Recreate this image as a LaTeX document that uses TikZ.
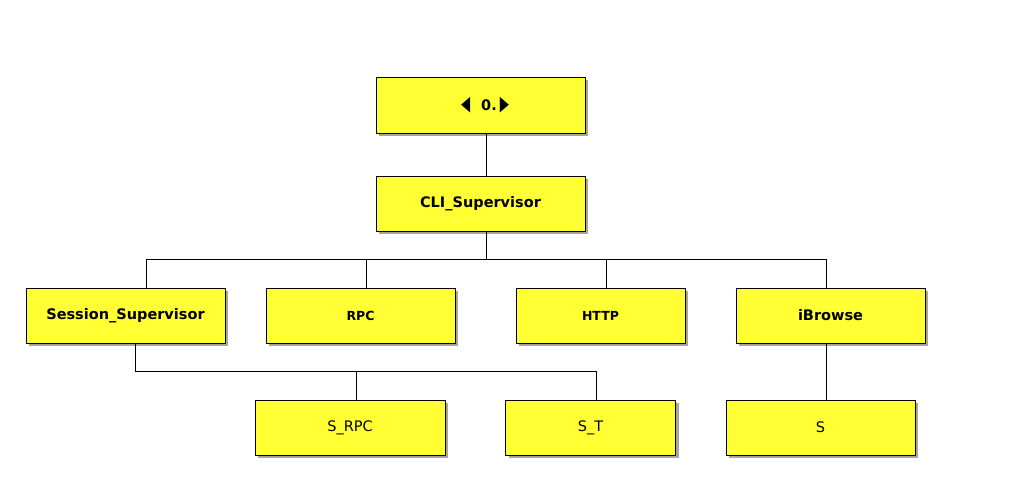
\documentclass[tikz,border=0pt]{standalone}
\usepackage{fontspec}
\setmainfont{DejaVu Sans}
\usetikzlibrary{shadows,calc}
\definecolor{boxyellow}{RGB}{255,255,51}
\newcommand{\tri}[1]{{\fontsize{20.5}{20}\selectfont\scalebox{0.58}[1.0]{#1}}}
\tikzset{
  box/.style={draw=black, line width=1pt, fill=boxyellow, minimum height=55pt,
    inner sep=0pt, font=\bfseries\fontsize{14.5}{16}\selectfont,
    drop shadow={shadow xshift=3pt, shadow yshift=-3pt, opacity=0.5, fill=black!70}},
  plain/.style={font=\fontsize{14.5}{16}\selectfont},
  small/.style={font=\bfseries\fontsize{12.5}{14}\selectfont},
  conn/.style={draw=black, line width=0.9pt}
}
\begin{document}
\begin{tikzpicture}[x=1pt,y=-1pt]
\useasboundingbox (0,0) rectangle (1020,490);
\fill[white] (0,0) rectangle (1020,490);
\node[box, minimum width=209pt, minimum height=56pt] (top) at (480.5,105)
  {\hspace{9pt}\tri{◀}\hspace{11pt}0.\hspace{3pt}\tri{▶}};
\node[box, minimum width=209pt] (cli) at (480.5,203.5) {CLI\_Supervisor};
\node[box, minimum width=199pt] (ses) at (125.5,315.5) {Session\_Supervisor};
\node[box, small, minimum width=189pt] (rpc) at (360.5,315.5) {RPC};
\node[box, small, minimum width=169pt] (http) at (600.5,315.5) {HTTP};
\node[box, minimum width=189pt] (ib) at (830.5,315.5) {iBrowse};
\node[box, plain, minimum width=190pt] (srpc) at (350,427.5) {S\_RPC};
\node[box, plain, minimum width=170pt] (st) at (590.5,427.5) {S\_T};
\node[box, plain, minimum width=189pt] (s) at (820.5,427.5) {S};
\coordinate (bus1) at (486,259);
\coordinate (bus2) at (135,371);
\draw[conn] ([xshift=5.5pt]top.south) -- ([xshift=5.5pt]cli.north);
\draw[conn] ([xshift=5.5pt]cli.south) -- (bus1);
\draw[conn] ([xshift=20.5pt]ses.north) -- ([xshift=20.5pt]ses.north |- bus1);
\draw[conn] ([xshift=-4.5pt]ib.north) -- ([xshift=-4.5pt]ib.north |- bus1);
\draw[conn, line cap=rect] ([xshift=20.5pt]ses.north |- bus1) -- ([xshift=-4.5pt]ib.north |- bus1);
\draw[conn] ([xshift=5.5pt]rpc.north) -- ([xshift=5.5pt]rpc.north |- bus1);
\draw[conn] ([xshift=5.5pt]http.north) -- ([xshift=5.5pt]http.north |- bus1);
\draw[conn] ([xshift=9.5pt]ses.south) -- (bus2) -| ([xshift=5.5pt]st.north);
\draw[conn] ([xshift=6pt]srpc.north) -- ([xshift=6pt]srpc.north |- bus2);
\draw[conn] ([xshift=-4.5pt]ib.south) -- ([xshift=5.5pt]s.north);
\end{tikzpicture}
\end{document}
